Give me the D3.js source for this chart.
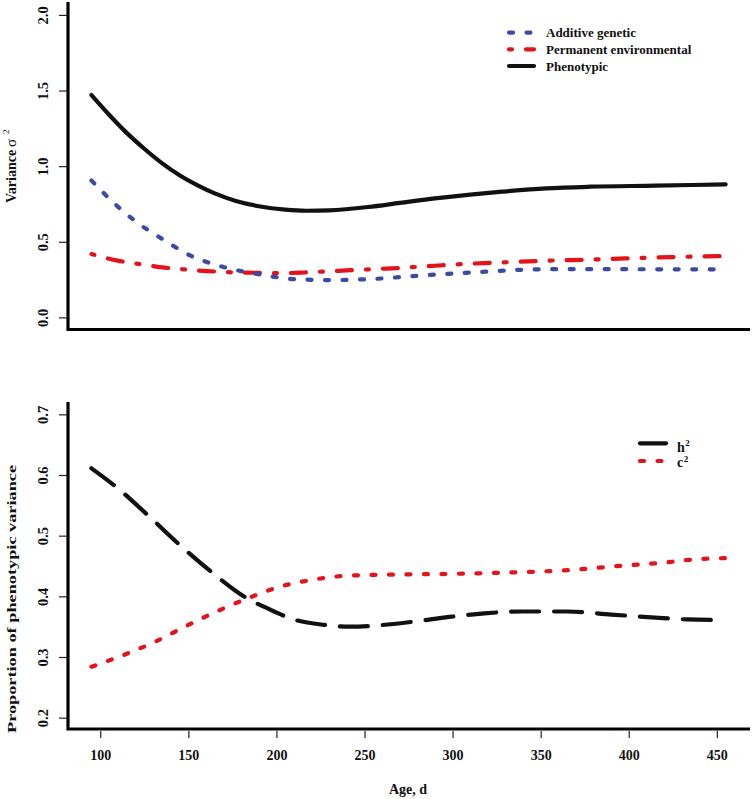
<!DOCTYPE html>
<html>
<head>
<meta charset="utf-8">
<script src="https://cdn.jsdelivr.net/npm/d3@7"></script>
<style>
  html, body { margin: 0; padding: 0; background: #fff; }
  svg { display: block; }
  text { font-family: "Liberation Serif", "Times New Roman", serif; font-weight: bold; fill: #111; }
</style>
</head>
<body>
<svg id="chart" width="752" height="799"></svg>
<script>
// ---------- DATA ----------
const xTicks = [100, 150, 200, 250, 300, 350, 400, 450];
const topYTicks = [0.0, 0.5, 1.0, 1.5, 2.0];
const botYTicks = [0.2, 0.3, 0.4, 0.5, 0.6, 0.7];

const phenoAge = [95, 105, 115, 125, 135, 145, 155, 165, 177, 190, 205, 217, 230, 252, 270, 290, 310, 328, 353, 378, 415, 455];
const phenoVal = [1.47, 1.34, 1.22, 1.115, 1.02, 0.94, 0.875, 0.82, 0.77, 0.735, 0.712, 0.705, 0.708, 0.730, 0.757, 0.787, 0.812, 0.831, 0.853, 0.864, 0.871, 0.880];

const addAge = [95, 110, 127, 135, 143, 151, 160, 169, 177, 187, 196, 205, 215, 225, 235, 245, 255, 265, 275, 285, 295, 305, 315, 325, 335, 345, 360, 380, 420, 455];
const addVal = [0.905, 0.732, 0.578, 0.52, 0.462, 0.41, 0.368, 0.336, 0.313, 0.291, 0.273, 0.258, 0.251, 0.247, 0.247, 0.250, 0.254, 0.262, 0.271, 0.279, 0.287, 0.293, 0.300, 0.307, 0.313, 0.317, 0.319, 0.319, 0.318, 0.318];

const permAge = [95, 110, 122, 135, 147, 161, 175, 189, 202, 216, 230, 242, 257, 272, 282, 295, 310, 323, 338, 353, 368, 383, 398, 415, 433, 455];
const permVal = [0.419, 0.375, 0.353, 0.331, 0.318, 0.306, 0.298, 0.295, 0.292, 0.297, 0.305, 0.312, 0.320, 0.328, 0.336, 0.345, 0.355, 0.361, 0.368, 0.375, 0.379, 0.384, 0.390, 0.396, 0.401, 0.406];

const h2Age = [95, 110, 128, 145, 164, 182, 195, 212, 227, 242, 257, 277, 298, 318, 340, 365, 390, 415, 433, 455];
const h2Val = [0.611, 0.578, 0.531, 0.485, 0.438, 0.399, 0.380, 0.360, 0.353, 0.350, 0.352, 0.358, 0.366, 0.372, 0.375, 0.375, 0.370, 0.365, 0.362, 0.361];

const c2Age = [95, 113, 131, 148, 166, 184, 202, 220, 240, 270, 300, 328, 358, 378, 398, 418, 438, 455];
const c2Val = [0.284, 0.303, 0.325, 0.350, 0.375, 0.397, 0.416, 0.427, 0.434, 0.436, 0.437, 0.439, 0.442, 0.446, 0.451, 0.455, 0.461, 0.463];

const topLegend = ["Additive genetic", "Permanent environmental", "Phenotypic"];
const botLegend = ["h", "c"];

// ---------- STYLES ----------
const BLUE = "#3d4aa3", RED = "#e5121b", BLACK = "#111";
const DOTTED = "4,13.5", DOTDASH = "3,14,15,14", LONGDASH = "28,15";

const svg = d3.select("#chart");

const x = d3.scaleLinear().domain([80.6, 469.4]).range([66.1, 751]);
const yTop = d3.scaleLinear().domain([-0.08, 2.08]).range([329.5, 2.8]);
const yBot = d3.scaleLinear().domain([0.18, 0.72]).range([729.8, 402.2]);

function zip(a, b) { return a.map((d, i) => [d, b[i]]); }

function drawLine(yScale, ages, vals, color, dash) {
  const line = d3.line().x(d => x(d[0])).y(d => yScale(d[1])).curve(d3.curveMonotoneX);
  svg.append("path").datum(zip(ages, vals))
    .attr("d", line).attr("fill", "none").attr("stroke", color)
    .attr("stroke-width", 4.2).attr("stroke-linecap", "round").attr("stroke-linejoin", "round")
    .attr("stroke-dasharray", dash);
}

function yAxis(yScale, ticks, fmt) {
  const g = svg.append("g").attr("transform", "translate(67,0)")
    .call(d3.axisLeft(yScale).tickValues(ticks).tickFormat(fmt).tickSize(8));
  g.select(".domain").remove();
  g.selectAll(".tick line").attr("stroke", "#222").attr("stroke-width", 1.2);
  g.selectAll(".tick text")
    .attr("x", 0).attr("dy", 0).attr("text-anchor", "middle")
    .attr("transform", "translate(-19,0) rotate(-90)")
    .style("font-size", "14.5px").style("font-family", '"Liberation Serif", serif').style("font-weight", "bold").attr("fill", "#111");
}

function frame(yTopPx, yBotPx) {
  svg.append("path")
    .attr("d", `M68,${yTopPx} L68,${yBotPx} L750,${yBotPx}`)
    .attr("fill", "none").attr("stroke", "#000").attr("stroke-width", 3.2);
}

// ---------- TOP PANEL ----------
frame(2, 329.5);
yAxis(yTop, topYTicks, d3.format(".1f"));

drawLine(yTop, permAge, permVal, RED, DOTDASH);
drawLine(yTop, addAge, addVal, BLUE, DOTTED);
drawLine(yTop, phenoAge, phenoVal, BLACK, null);

// y label
const ylT = svg.append("g").attr("transform", "translate(15.5,0) rotate(-90)");
ylT.append("text").attr("x", -203).attr("y", 0).style("font-size", "14px").text("Variance");
ylT.append("text").attr("x", -147).attr("y", 0).style("font-size", "15px").style("font-weight", "normal").text("σ");
ylT.append("text").attr("x", -134).attr("y", -7).style("font-size", "9px").style("font-weight", "normal").text("2");

// top legend
const tl = [ {c: BLUE, d: DOTTED}, {c: RED, d: DOTDASH}, {c: BLACK, d: null} ];
const tlBase = [37.3, 54, 70.7];
topLegend.forEach((name, i) => {
  svg.append("line").attr("x1", 509).attr("x2", 534)
    .attr("y1", tlBase[i] - 4.7).attr("y2", tlBase[i] - 4.7)
    .attr("stroke", tl[i].c).attr("stroke-width", 4.2).attr("stroke-linecap", "round")
    .attr("stroke-dasharray", tl[i].d);
  svg.append("text").attr("x", 546).attr("y", tlBase[i]).style("font-size", "13px").text(name);
});

// ---------- BOTTOM PANEL ----------
frame(402, 729);
yAxis(yBot, botYTicks, d3.format(".1f"));

drawLine(yBot, c2Age, c2Val, RED, DOTTED);
drawLine(yBot, h2Age, h2Val, BLACK, LONGDASH);

// x axis
const xg = svg.append("g").attr("transform", "translate(0,731)")
  .call(d3.axisBottom(x).tickValues(xTicks).tickSize(7).tickFormat(d3.format("d")));
xg.select(".domain").remove();
xg.selectAll(".tick line").attr("stroke", "#222").attr("stroke-width", 1.2);
xg.selectAll(".tick text").attr("y", 29).attr("dy", 0)
  .style("font-size", "14px").style("font-family", '"Liberation Serif", serif').style("font-weight", "bold").attr("fill", "#111");

svg.append("text").attr("x", 408).attr("y", 794).attr("text-anchor", "middle")
  .style("font-size", "14px").text("Age, d");

// y label bottom
const ylB = svg.append("g").attr("transform", "translate(15.5,0) rotate(-90)");
ylB.append("text").attr("x", -733).attr("y", 0).style("font-size", "13px")
  .attr("textLength", 268).attr("lengthAdjust", "spacingAndGlyphs")
  .text("Proportion of phenotypic variance");

// bottom legend
const bl = [ {c: BLACK, d: null, y: 443.3, tb: 451.5}, {c: RED, d: DOTTED, y: 461, tb: 467} ];
botLegend.forEach((name, i) => {
  svg.append("line").attr("x1", 640).attr("x2", 666)
    .attr("y1", bl[i].y).attr("y2", bl[i].y)
    .attr("stroke", bl[i].c).attr("stroke-width", 4.2).attr("stroke-linecap", "round")
    .attr("stroke-dasharray", bl[i].d);
  const t = svg.append("text").attr("x", 677).attr("y", bl[i].tb).style("font-size", "14px");
  t.append("tspan").text(name);
  t.append("tspan").attr("dx", 0.5).attr("dy", -5.5).style("font-size", "9px").text("2");
});
</script>
</body>
</html>
